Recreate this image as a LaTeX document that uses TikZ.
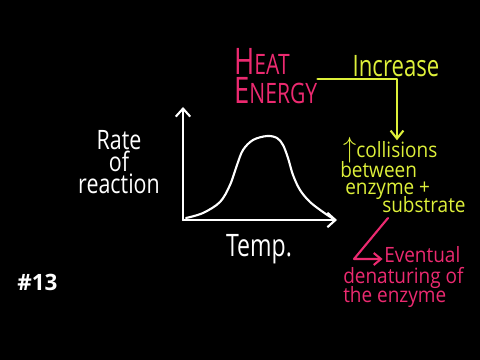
\documentclass[tikz,border=0pt]{standalone}
\usepackage{fontspec}
\setmainfont{Open Sans}
\usepackage{tikz}
\usetikzlibrary{arrows.meta,positioning,calc}
\definecolor{chalkyellow}{RGB}{222,240,58}
\definecolor{chalkpink}{RGB}{236,42,112}
\newcommand{\lowcaps}[1]{{\fontsize{20}{21}\selectfont #1}}
\tikzset{
  handtext/.style={inner sep=0pt,xscale=0.75,transform shape,align=center},
  whitenote/.style={handtext,xscale=1.07,text=white,font=\fontsize{19}{15.5}\selectfont},
  yellownote/.style={handtext,xscale=1.2,text=chalkyellow,font=\fontsize{15}{14}\selectfont},
  pinknote/.style={handtext,xscale=1.2,text=chalkpink,font=\fontsize{15}{14}\selectfont},
  chalkline/.style={line width=1.5pt,line cap=round,line join=round},
  axisarrow/.style={chalkline,draw=white,-{Straight Barb[length=2mm,width=3.6mm]}},
  yellowarrow/.style={chalkline,draw=chalkyellow,-{Straight Barb[length=2mm,width=3.2mm]}},
  pinkarrow/.style={chalkline,draw=chalkpink,-{Straight Barb[length=1.8mm,width=3mm]}}
}

\begin{document}
\begin{tikzpicture}[x=0.025cm,y=-0.025cm]
  \fill[black] (0,0) rectangle (480,360);
  % graph
  \coordinate (origin) at (183,220);
  \coordinate (ytop) at (183,107);
  \coordinate (xend) at (337,220);
  \draw[axisarrow] (origin) -- (ytop);
  \draw[axisarrow] (origin) -- (xend);
  \draw[chalkline,white] plot[smooth,tension=0.55] coordinates {(186,218) (203,213) (220,202) (230,185)
    (237,165) (243,150) (253,140) (267,136) (277,138) (283,145) (288,158) (293,175) (300,190)
    (310,202) (323,212) (332,218)};
  \node[whitenote] (rate) at (119,162) {Rate\\of\\reaction};
  \node[whitenote,xscale=0.93,font=\fontsize{22}{22}\selectfont,anchor=base] (temp) at (259,256) {Temp.};
  % heat energy
  \node[handtext,align=left,anchor=west,text=chalkpink,font=\fontsize{26}{21}\selectfont] (heat) at (234,76) {H\lowcaps{EAT}\\E\lowcaps{NERGY}};
  \node[yellownote,xscale=0.833,font=\fontsize{21}{21}\selectfont,anchor=base] (incr) at (396,77) {Increase};
  \node[yellownote,anchor=base west] (colls) at (343,158) {{\fontsize{22}{22}\selectfont$\uparrow$}collisions};
  \node[yellownote,anchor=base west] (betw) at (340,178) {between};
  \node[yellownote,anchor=base west] (enz) at (345,195) {enzyme +};
  \node[yellownote,anchor=base west] (subst) at (382,212) {substrate};
  \coordinate (bend) at (397,79);
  \draw[yellowarrow] (heat.east |- bend) -- (bend) -- ([yshift=-2pt]colls.north -| bend);
  % denaturing
  \node[pinknote,anchor=base west] (event) at (384,263) {Eventual};
  \node[pinknote,anchor=base west] (denat) at (343,283) {denaturing of};
  \node[pinknote,anchor=base west] (theenz) at (343,302) {the enzyme};
  \coordinate (pinktop) at (388,218);
  \coordinate (pinkcorner) at (354,259);
  \draw[pinkarrow] (pinktop) -- (pinkcorner) -- ([xshift=-1pt]event.west |- pinkcorner);
  \node[inner sep=0pt,text=white,font=\fontsize{16}{16}\selectfont\bfseries,anchor=base west] (num) at (17,290) {\#13};
\end{tikzpicture}
\end{document}
